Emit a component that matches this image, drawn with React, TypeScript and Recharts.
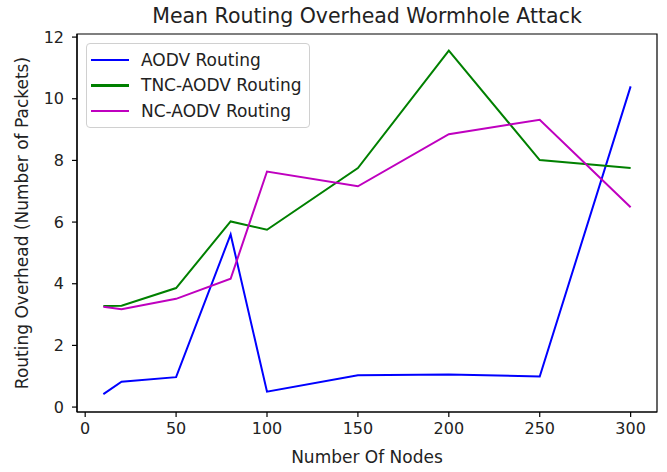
import React from 'react';
import { LineChart, Line, XAxis, YAxis, ReferenceArea } from 'recharts';

const nodes = [10, 20, 50, 80, 100, 150, 200, 250, 300];
const aodv = [0.42, 0.82, 0.97, 5.6, 0.5, 1.03, 1.06, 0.99, 10.4];
const tncAodv = [3.28, 3.29, 3.86, 6.02, 5.75, 7.75, 11.56, 8.01, 7.75];
const ncAodv = [3.25, 3.17, 3.51, 4.16, 7.64, 7.16, 8.85, 9.32, 6.48];

const xTicks = [0, 50, 100, 150, 200, 250, 300];
const yTicks = [0, 2, 4, 6, 8, 10, 12];
const xDomain = [-4.5, 314.5];
const yDomain = [-0.16, 12.1];

const series = [
  { key: 'aodv', name: 'AODV Routing', color: '#0000ff' },
  { key: 'tnc', name: 'TNC-AODV Routing', color: '#008000' },
  { key: 'nc', name: 'NC-AODV Routing', color: '#bf00bf' },
];

const data = nodes.map((n, i) => ({
  nodes: n,
  aodv: aodv[i],
  tnc: tncAodv[i],
  nc: ncAodv[i],
}));

const FONT = '"DejaVu Sans", sans-serif';
const TEXT = '#222';

// legend drawn as an overlay so it doesn't eat into the plot area
const LegendBox = () => (
  <div
    style={{
      position: 'absolute',
      left: 86,
      top: 43,
      width: 222,
      padding: '3px 0',
      border: '1px solid #d0d0d0',
      borderRadius: 4,
      background: 'rgba(255,255,255,0.8)',
      fontFamily: FONT,
      fontSize: 17,
      color: TEXT,
    }}
  >
    {series.map((s) => (
      <div key={s.key} style={{ display: 'flex', alignItems: 'center', height: 25.5 }}>
        <span style={{ display: 'inline-block', width: 38, height: 2.5, background: s.color, marginLeft: 4, marginRight: 12 }} />
        <span>{s.name}</span>
      </div>
    ))}
  </div>
);

export default function App() {
  return (
    <div style={{ position: 'absolute', left: 0, top: 0, width: 667, height: 472, background: '#fff' }}>
      <div
        style={{
          position: 'absolute',
          left: 77,
          width: 580,
          top: 4,
          textAlign: 'center',
          fontFamily: FONT,
          fontSize: 20.5,
          color: TEXT,
        }}
      >
        Mean Routing Overhead Wormhole Attack
      </div>
      <LineChart width={667} height={472} data={data} margin={{ top: 34, right: 10, bottom: 0, left: 0 }}>
        <XAxis
          dataKey="nodes"
          type="number"
          domain={xDomain}
          allowDataOverflow
          ticks={xTicks}
          height={60}
          tickSize={5}
          tickMargin={6}
          stroke="#000"
          strokeWidth={1.2}
          tick={{ fill: TEXT, fontFamily: FONT, fontSize: 16 }}
          label={{ value: 'Number Of Nodes', position: 'insideBottom', offset: 9, fill: TEXT, fontFamily: FONT, fontSize: 17 }}
        />
        <YAxis
          type="number"
          domain={yDomain}
          allowDataOverflow
          ticks={yTicks}
          width={77}
          tickSize={5}
          tickMargin={8}
          stroke="#000"
          strokeWidth={1.2}
          tick={{ fill: TEXT, fontFamily: FONT, fontSize: 16 }}
          label={{
            value: 'Routing Overhead (Number of Packets)',
            angle: -90,
            position: 'insideLeft',
            offset: 22,
            textAnchor: 'middle',
            fill: TEXT,
            fontFamily: FONT,
            fontSize: 17,
          }}
        />
        {/* frame around the plot area */}
        <ReferenceArea
          x1={xDomain[0]}
          x2={xDomain[1]}
          y1={yDomain[0]}
          y2={yDomain[1]}
          fill="none"
          stroke="#000"
          strokeWidth={1.2}
          ifOverflow="visible"
        />
        {series.map((s) => (
          <Line
            key={s.key}
            type="linear"
            dataKey={s.key}
            name={s.name}
            stroke={s.color}
            strokeWidth={2}
            dot={false}
            isAnimationActive={false}
          />
        ))}
      </LineChart>
      <LegendBox />
    </div>
  );
}
